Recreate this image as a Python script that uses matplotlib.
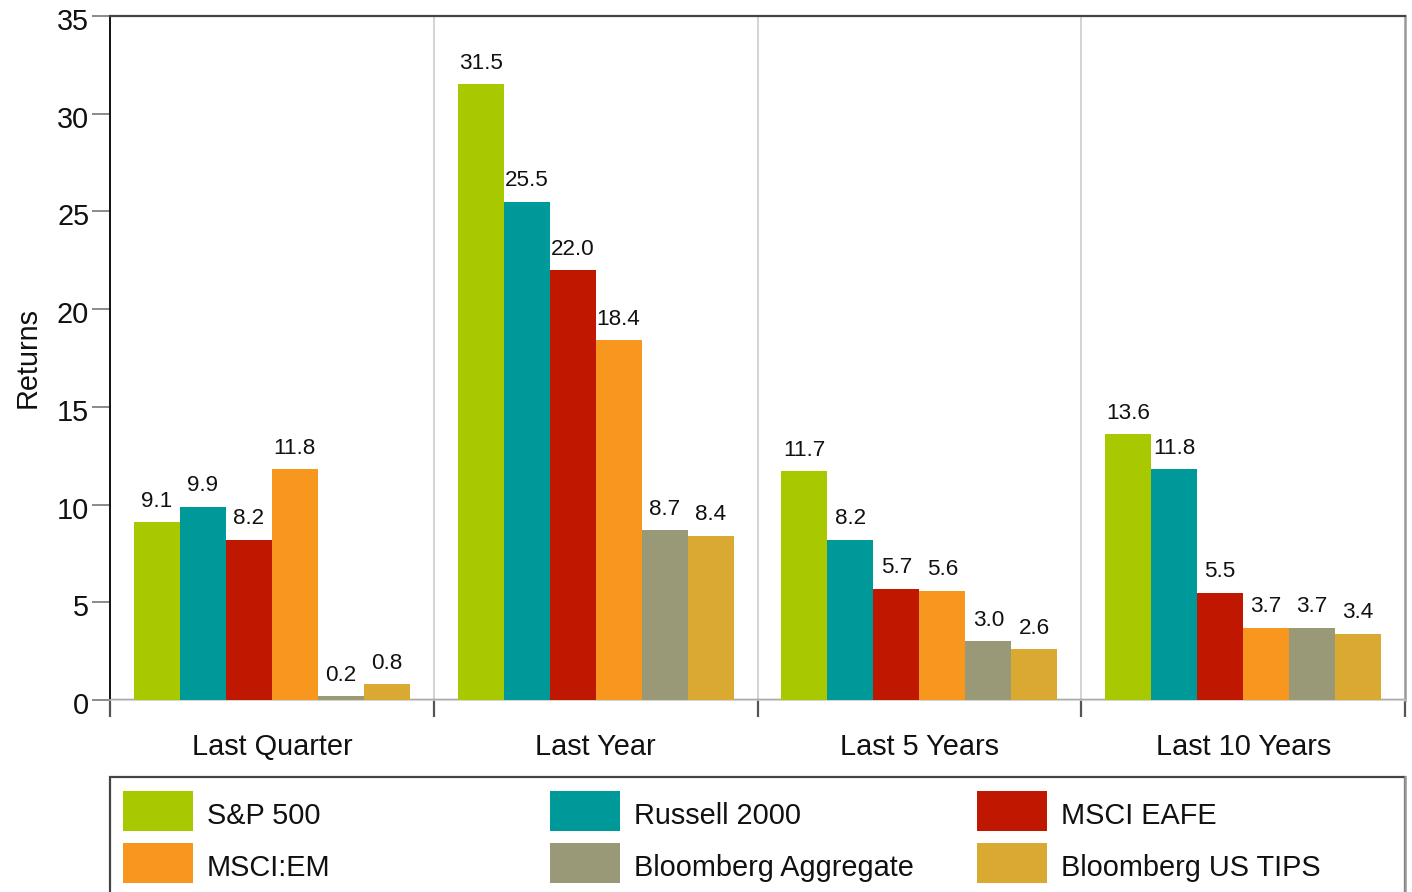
import matplotlib
matplotlib.use("Agg")
import matplotlib.pyplot as plt
from matplotlib.patches import Rectangle
from matplotlib.lines import Line2D
import matplotlib.transforms as mtransforms
import numpy as np

plt.rcParams['font.family'] = ['Liberation Sans', 'DejaVu Sans']

categories = ["Last Quarter", "Last Year", "Last 5 Years", "Last 10 Years"]
series_names = ["S&P 500", "Russell 2000", "MSCI EAFE", "MSCI:EM",
                "Bloomberg Aggregate", "Bloomberg US TIPS"]
sp500 = [9.1, 31.5, 11.7, 13.6]
russell2000 = [9.9, 25.5, 8.2, 11.8]
msci_eafe = [8.2, 22.0, 5.7, 5.5]
msci_em = [11.8, 18.4, 5.6, 3.7]
bbg_agg = [0.2, 8.7, 3.0, 3.7]
bbg_tips = [0.8, 8.4, 2.6, 3.4]
series_values = [sp500, russell2000, msci_eafe, msci_em, bbg_agg, bbg_tips]
colors = ["#A8C800", "#009999", "#C01800", "#F7971E", "#999977", "#DAA932"]
y_ticks = [0, 5, 10, 15, 20, 25, 30, 35]

W, H = 1412, 892
fig = plt.figure(figsize=(W / 100, H / 100), dpi=100)
ax = fig.add_axes([110 / W, (H - 700) / H, (1405 - 110) / W, (700 - 16) / H])

x = np.arange(len(categories))
bw = 0.142
for i, (vals, col) in enumerate(zip(series_values, colors)):
    bars = ax.bar(x + (i - 2.5) * bw, vals, width=bw, color=col, zorder=3,
                  linewidth=0)
    ax.bar_label(bars, labels=[f"{v:.1f}" for v in vals], padding=7.5,
                 fontsize=16.2, color="#111111")

ax.set_xlim(-0.5, 3.5)
ax.set_ylim(0, 35)
ax.set_yticks(y_ticks)
ax.set_yticklabels([str(t) for t in y_ticks], fontsize=20.8, color="#111111")
ax.tick_params(axis='y', direction='out', length=13, width=1.2,
               color="#777777", pad=2)
shift = mtransforms.ScaledTranslation(0, -3 / 100, fig.dpi_scale_trans)
for lbl in ax.get_yticklabels():
    lbl.set_transform(lbl.get_transform() + shift)

ax.set_xticks(x)
ax.set_xticklabels(categories, fontsize=20.8, color="#111111")
ax.tick_params(axis='x', which='major', length=0, pad=24)
ax.set_xticks([-0.5, 0.5, 1.5, 2.5, 3.5], minor=True)
ax.tick_params(axis='x', which='minor', direction='out', length=12.5,
               width=1.6, color="#555555")

# group separators
for sx in [0.5, 1.5, 2.5]:
    ax.axvline(sx, color="#cccccc", linewidth=1.2, zorder=1)
ax.axhline(0, color="#111111", linewidth=1.6, zorder=2)

ax.spines['left'].set_color("#111111")
ax.spines['left'].set_linewidth(1.4)
ax.spines['top'].set_color("#444444")
ax.spines['top'].set_linewidth(1.6)
ax.spines['right'].set_color("#999999")
ax.spines['right'].set_linewidth(1.8)
ax.spines['bottom'].set_color("#cccccc")
ax.spines['bottom'].set_linewidth(1.2)

ax.set_ylabel("Returns", fontsize=20.8, color="#111111", labelpad=11)

# manual legend (figure pixel coords)
def fx(px):
    return px / W

def fy(py):
    return 1 - py / H

frame = Rectangle((fx(110), fy(900)), fx(1405) - fx(110), fy(777) - fy(900),
                  transform=fig.transFigure, facecolor="none",
                  edgecolor="#444444", linewidth=1.6, clip_on=False)
fig.add_artist(frame)
fig.add_artist(Line2D([fx(1405), fx(1405)], [fy(777), fy(900)],
                      transform=fig.transFigure, color="#999999", linewidth=1.8))

col_x = [123, 550, 977]
row_y = [(791, 831), (843, 883)]
for k, (name, col) in enumerate(zip(series_names, colors)):
    r, c = divmod(k, 3)
    x0 = col_x[c]
    y0, y1 = row_y[r]
    fig.add_artist(Rectangle((fx(x0), fy(y1)), fx(70), (y1 - y0) / H,
                             transform=fig.transFigure, facecolor=col,
                             edgecolor="none"))
    fig.text(fx(x0 + 84), fy((y0 + y1) / 2 + 5.5), name, fontsize=20.8,
             color="#111111", va="center", ha="left")

fig.savefig("out.png", dpi=100)
